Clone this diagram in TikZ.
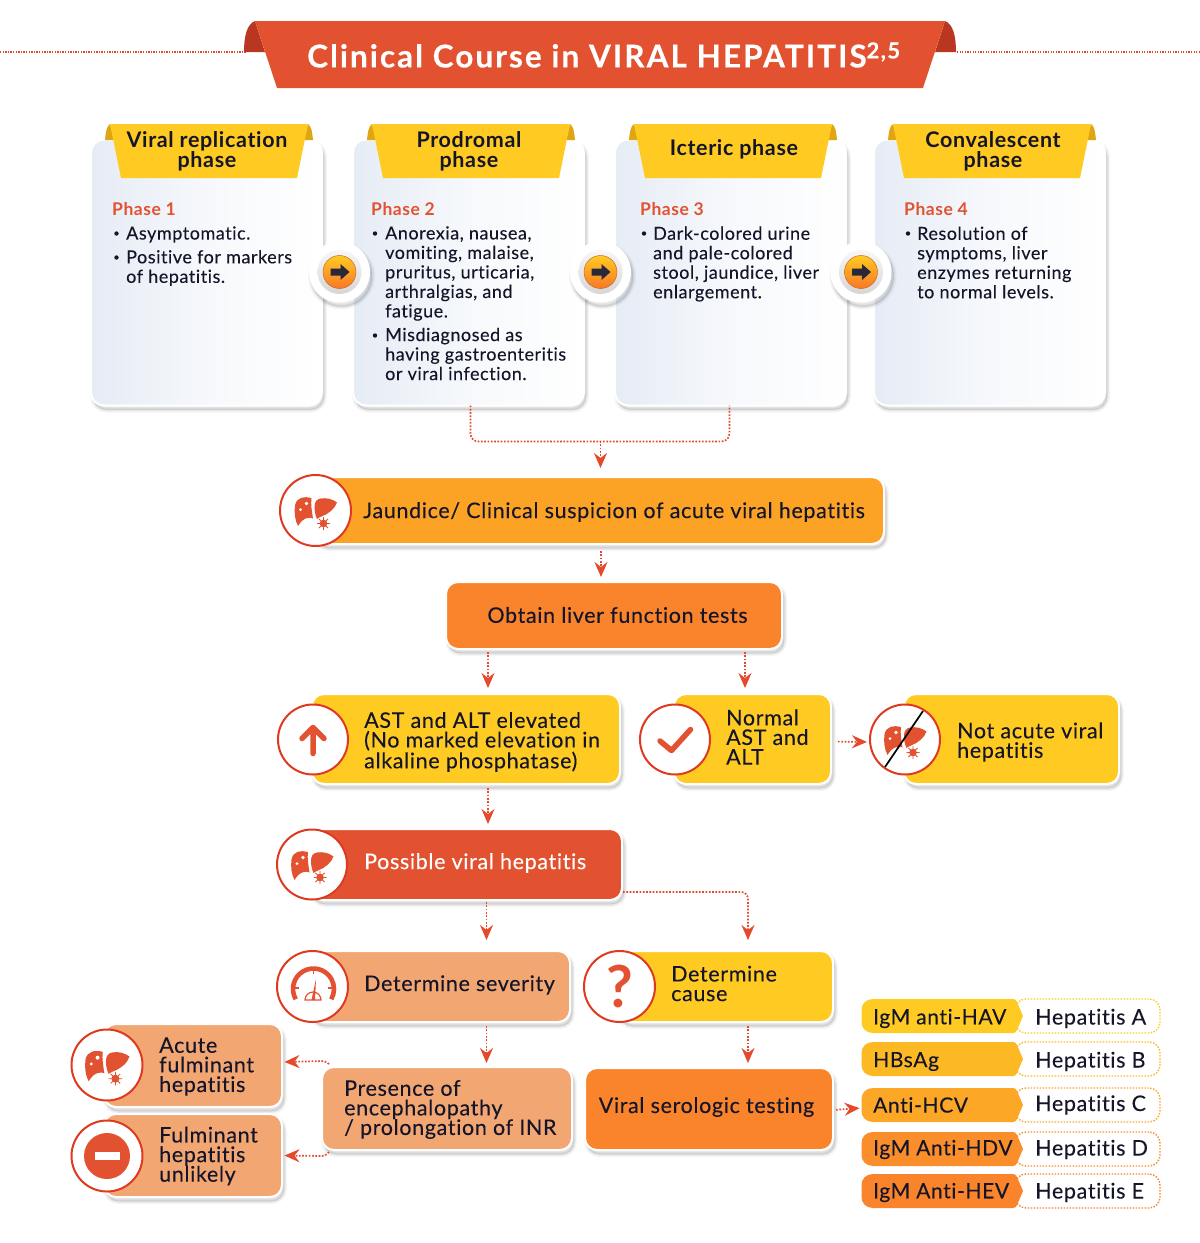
\documentclass[tikz,border=0pt]{standalone}
\usepackage{fontspec}
\setmainfont[LetterSpace=3,Ligatures=NoCommon,BoldFont={Lato Bold},UprightFeatures={FakeBold=0.12}]{Lato}
\newfontfamily\headfont[LetterSpace=6.5,Ligatures=NoCommon,FakeBold=0.25]{Lato Bold}
\usetikzlibrary{arrows.meta,shadows,calc}
\definecolor{cRed}{HTML}{E25231}
\definecolor{cRing}{HTML}{DF3A20}
\definecolor{cYel}{HTML}{FFCB22}
\definecolor{cYelD}{HTML}{E0A612}
\definecolor{cAmb}{HTML}{FCA326}
\definecolor{cOra}{HTML}{F9842B}
\definecolor{cPea}{HTML}{F2A672}
\definecolor{cInk}{HTML}{15152A}
\definecolor{cArrow}{HTML}{E5492B}
\definecolor{cFold}{HTML}{B93620}
\definecolor{cCard}{HTML}{E6ECF5}
\definecolor{rowA}{HTML}{FFCB22}
\definecolor{rowB}{HTML}{FDB924}
\definecolor{rowC}{HTML}{FCA726}
\definecolor{rowD}{HTML}{FA8E2A}
\definecolor{rowE}{HTML}{F9842B}
\tikzset{
 softshadow/.style={
  general shadow={draw=black,opacity=.035,line width=6pt,shadow xshift=2pt,shadow yshift=-4pt},
  general shadow={draw=black,opacity=.05,line width=3.5pt,shadow xshift=2pt,shadow yshift=-4pt},
  general shadow={fill=black,draw=black,opacity=.07,line width=1pt,shadow xshift=2pt,shadow yshift=-4pt}},
 flowbox/.style={rectangle,rounded corners=12pt,draw=white,line width=2pt,inner sep=0pt,outer sep=0pt,softshadow},
 infocard/.style={flowbox,rounded corners=13pt,left color=cCard,right color=white,middle color=cCard!35!white},
 iconring/.style={circle,fill=white,draw=cRing,line width=2pt,inner sep=0pt,outer sep=0pt,minimum size=70pt},
 flow/.style={draw=cArrow,line width=1.7pt,dash pattern=on 1.7pt off 1.6pt},
 flowarrow/.style={flow,-{Stealth[length=15pt,width=13pt,inset=5pt,fill=cArrow]}},
 lbl/.style={text=cInk,anchor=west,align=left,inner sep=0pt,font=\fontsize{21.5}{19.6}\selectfont},
 lblc/.style={lbl,anchor=center,align=center},
 rowl/.style={lbl,font=\fontsize{21}{19.6}\selectfont},
 ctext/.style={text=cInk,anchor=west,align=left,inner sep=0pt,font=\fontsize{18}{19.5}\selectfont},
 phase/.style={text=cRed,anchor=west,inner sep=0pt,font=\fontsize{17.5}{19}\selectfont\bfseries},
 ribhead/.style={text=cInk,align=center,inner sep=0pt,font=\fontsize{21.5}{20}\selectfont\bfseries},
 bul/.style={circle,fill=cInk,inner sep=0pt,minimum size=4.4pt},
}
\newcommand{\bx}[6]{\node[flowbox,fill=#6,minimum width={(#4)-(#2)+2},minimum height={(#5)-(#3)+2}] (#1) at ({((#2)+(#4))/2},{((#3)+(#5))/2}) {};}
\newcommand{\card}[3]{\node[infocard,minimum width=231,minimum height=266] (#1) at (#2,272.5) {};
 \fill[cYelD] (#3-104,140) .. controls (#3-103,130) and (#3-102,126) .. (#3-99,124) -- (#3-95,140) -- cycle;
 \fill[cYelD] (#3+104,140) .. controls (#3+103,130) and (#3+102,126) .. (#3+99,124) -- (#3+95,140) -- cycle;
 \fill[cYel] (#3-99,124) -- (#3+99,124) -- (#3+88,178) -- (#3-88,178) -- cycle;}
\newcommand{\liver}[4]{\begin{scope}[shift={(#1,#2)},scale=#3]
 \fill[cRed] (-4,-12.5) .. controls (-11,-14.5) and (-19,-13.5) .. (-20.5,-5) .. controls (-21.5,2) and (-20.5,10) .. (-17.5,15.5) .. controls (-15,11.5) and (-12,8) .. (-8,7.5) .. controls (-6,7) and (-4,7) .. (-2.5,8) .. controls (-3.5,1) and (-5,-6) .. cycle;
 \fill[cRed] (-1,-4) .. controls (-1,-8) and (1,-11.5) .. (5,-12) .. controls (11,-13) and (17,-11.5) .. (21.5,-8) .. controls (19.5,-2) and (13,3.5) .. (6,6) .. controls (4,7) and (2.5,7.5) .. (1.5,8.5) .. controls (-0.5,4) and (-1,0) .. cycle;
 \fill[white] (-9,-7) circle (1.9) (-15,-1) circle (1.5);
 \fill[#4] (8,13) circle (3.8);
 \draw[#4,line width=.8pt] (1.5,13) -- (14.5,13) (8,6.5) -- (8,19.5) (3.4,8.4) -- (12.6,17.6) (3.4,17.6) -- (12.6,8.4);
 \end{scope}}
\newcommand{\btn}[3]{\node[circle,fill=white,inner sep=0pt,minimum size=61pt,softshadow] (#1) at (#2,#3) {};
 \shade[top color=gray!6,bottom color=gray!32] (#1.center) circle (22);
 \shade[top color=cYel,bottom color=cOra!90!red,draw=cOra!80!black,line width=.5pt] (#1.center) circle (16.5);
 \fill[cInk!82!gray] ([shift={(-9pt,3.5pt)}]#1.center) -- ++(10,0) -- ++(0,-4.5) -- ++(9,8) -- ++(-9,8) -- ++(0,-4.5) -- ++(-10,0) -- cycle;}
\newcommand{\testrow}[7]{%
 \node[draw=#4,dash pattern=on 1.5pt off 1.5pt,line width=1.4pt,rounded corners=11pt,fill=white,inner sep=0pt,minimum width=145,minimum height={(#3)-(#2)}] (#1o) at (1087.5,{((#2)+(#3))/2}) {};
 \path[fill=#4] (873,#2) -- (1013,#2) .. controls (1015,#2) and (1016,{(#2)+1}) .. (1017,{(#2)+3}) -- (1023,{((#2)+(#3))/2}) -- (1017,{(#3)-3}) .. controls (1016,{(#3)-1}) and (1015,#3) .. (1013,#3) -- (873,#3) .. controls (866,#3) and (861.5,{(#3)-5}) .. (861.5,{(#3)-11}) -- (861.5,{(#2)+11}) .. controls (861.5,{(#2)+5}) and (866,#2) .. (873,#2) -- cycle;
 \coordinate (#1p) at (861.5,{((#2)+(#3))/2});
 \node[rowl] (#1a) at (873,{((#2)+(#3))/2+#7}) {#5};
 \node[lbl] (#1b) at (1035,{((#2)+(#3))/2+#7}) {#6};}
\begin{document}
\begin{tikzpicture}[x=1pt,y=-1pt]
\fill[white] (0,0) rectangle (1200,1243);
\useasboundingbox (0,0) rectangle (1200,1243);
% title
\coordinate (dotL) at (0,52);\coordinate (dotLe) at (246,52);\coordinate (dotR) at (1200,52);\coordinate (dotRe) at (956,52);
\draw[flow,line width=1.2pt,dash pattern=on 1.3pt off 1.3pt] (dotL) -- (dotLe) (dotR) -- (dotRe);
\fill[cFold] (244,52) .. controls (244,36) and (247,24) .. (255,21) -- (265,52) -- cycle;
\fill[cFold] (956,52) .. controls (956,36) and (953,24) .. (945,21) -- (935,52) -- cycle;
\fill[cRed] (255,21) -- (945,21) -- (923,88) -- (277,88) -- cycle;
\node[text=white,inner sep=0pt,anchor=west,font=\fontsize{31.5}{31}\selectfont\headfont] (title) at (307,55) {Clinical Course in VIRAL HEPATITIS\textsuperscript{2,5}};
% cards
\card{c1}{206.5}{209}
\card{c2}{468.5}{471}
\card{c3}{730.5}{733}
\card{c4}{989.5}{992}
\node[ribhead] (h1) at (207,151) {Viral replication\\phase};
\node[ribhead] (h2) at (469,151) {Prodromal\\phase};
\node[ribhead] (h3) at (734,149.5) {Icteric phase};
\node[ribhead] (h4) at (993,151) {Convalescent\\phase};
\node[phase] (p1) at (112,209) {Phase 1};
\node[phase] (p2) at (371,209) {Phase 2};
\node[phase] (p3) at (640,209) {Phase 3};
\node[phase] (p4) at (904,209) {Phase 4};
\node[bul] (b11) at (116.5,233.5) {};
\node[ctext] (t11) at (126,234.5) {Asymptomatic.};
\node[bul] (b12) at (116.5,257.5) {};
\node[ctext] (t12) at (126,268) {Positive for markers\\of hepatitis.};
\node[bul] (b21) at (375,233.5) {};
\node[ctext] (t21) at (385,273.5) {Anorexia, nausea,\\vomiting, malaise,\\pruritus, urticaria,\\arthralgias, and\\fatigue.};
\node[bul] (b22) at (375,335.5) {};
\node[ctext] (t22) at (385,354) {Misdiagnosed as\\having gastroenteritis\\or viral infection.};
\node[bul] (b31) at (644,233.5) {};
\node[ctext] (t31) at (653,264) {Dark-colored urine\\and pale-colored\\stool, jaundice, liver\\enlargement.};
\node[bul] (b41) at (908,233.5) {};
\node[ctext] (t41) at (917,262.5) {Resolution of\\symptoms, liver\\enzymes returning\\to normal levels.};
\btn{a1}{339.5}{272}
\btn{a2}{600.5}{272}
\btn{a3}{861}{272}
% boxes
\bx{jaun}{315}{478}{883}{543}{cAmb}
\node[iconring,minimum size=71pt] (jaunI) at (315.5,510.5) {};
\liver{315.5}{510.5}{1}{cRed}
\node[lbl] (jaunT) at (363,512) {Jaundice/ Clinical suspicion of acute viral hepatitis};
\bx{obt}{447}{583}{781}{648}{cOra}
\node[lblc] (obtT) at (617.5,615) {Obtain liver function tests};
\bx{ast}{313}{695}{619}{783}{cYel}
\node[iconring] (astI) at (313,739.5) {};
\node[lbl] (astT) at (364,742) {AST and ALT elevated\\(No marked elevation in\\alkaline phosphatase)};
\draw[cRed,line width=5.5pt,line cap=round,line join=round] (astI.center) ++(0,14) -- ++(0,-26) ++(-11,11) -- ++(11,-11) -- ++(11,11);
\bx{nor}{675}{695}{830}{783}{cYel}
\node[iconring] (norI) at (675,739.5) {};
\node[lbl] (norT) at (726,737) {Normal\\AST and\\ALT};
\draw[cRed,line width=5.5pt,line cap=round,line join=round] (norI.center) ++(-15,1.5) -- ++(11.5,9.5) -- ++(19,-21);
\bx{notv}{905}{695}{1118}{783}{cYel}
\node[iconring] (notI) at (905,739.5) {};
\liver{905}{739.5}{1}{cRed}
\draw[black,line width=1.7pt] (923,711) -- (885,767);
\node[lbl] (notT) at (957,742) {Not acute viral\\hepatitis};
\bx{poss}{312}{830}{621}{899}{cRed}
\node[iconring] (possI) at (312,864.5) {};
\liver{312}{864.5}{1}{cRed}
\node[lbl,text=white] (possT) at (364,863) {Possible viral hepatitis};
\bx{sev}{312}{952}{569}{1021}{cPea}
\node[iconring,minimum size=71pt] (sevI) at (312.5,986.5) {};
\node[lbl] (sevT) at (364,985) {Determine severity};
\draw[cRed,line width=4.6pt] (295.75,999.25) arc[start angle=150,end angle=390,radius=20.5];
\draw[cRed,line width=1.2pt] (305,1000) arc[start angle=180,end angle=360,radius=8] -- cycle;
\fill[cRed] (311.5,1000) -- (316,979) -- (315,1000) -- cycle;
\draw[cRed,line width=1.2pt] (313.5,970) -- (313.5,974) (295,988) -- (299,988) (328,988) -- (332,988);
\bx{cau}{619.5}{952}{832}{1021}{cYel}
\node[iconring,minimum size=71pt] (cauI) at (619.5,986.5) {};
\node[text=cRed,inner sep=0pt,font=\fontsize{58}{58}\selectfont\bfseries] (cauQ) at (620,986) {?};
\node[lbl] (cauT) at (671,983.5) {Determine\\cause};
\bx{pres}{323}{1068}{571}{1149}{cPea}
\node[lbl] (presT) at (344,1109.5) {Presence of\\encephalopathy\\/ prolongation of INR};
\bx{sero}{586}{1069}{832}{1149}{cOra}
\node[lblc] (seroT) at (706.5,1107) {Viral serologic testing};
\bx{acu}{105}{1025}{281}{1106}{cPea}
\node[iconring,minimum size=71pt] (acuI) at (107,1065) {};
\liver{107}{1065}{1.05}{cRed}
\node[lbl] (acuT) at (159,1066.5) {Acute\\fulminant\\hepatitis};
\bx{ful}{105}{1115}{281}{1196}{cPea}
\node[iconring,minimum size=71pt] (fulI) at (107,1156) {};
\fill[cRed] (fulI.center) circle (23);
\fill[white] (94.5,1152) rectangle (120,1160);
\node[lbl] (fulT) at (159,1156) {Fulminant\\hepatitis\\unlikely};
% tests
\testrow{ra}{999}{1033}{rowA}{IgM anti-HAV}{Hepatitis A}{2.5}
\testrow{rb}{1042}{1076}{rowB}{HBsAg}{Hepatitis B}{2.5}
\testrow{rc}{1088}{1122}{rowC}{Anti-HCV}{Hepatitis C}{0}
\testrow{rd}{1132}{1166}{rowD}{IgM Anti-HDV}{Hepatitis D}{0.5}
\testrow{re}{1174}{1208}{rowE}{IgM Anti-HEV}{Hepatitis E}{1.5}
% connectors
\coordinate (merge) at (600.5,441);
\coordinate (xa) at (601,0);\coordinate (xb) at (488,0);\coordinate (xc) at (745,0);\coordinate (xd) at (486.5,0);\coordinate (xe) at (748,0);
\draw[flow,rounded corners=8pt] ([xshift=2pt]c2.south) -- ++(0,36) -| ([xshift=-1pt]c3.south);
\draw[flowarrow,shorten >=9pt] (merge) -- (jaun.north -| merge);
\draw[flowarrow,shorten <=7pt,shorten >=5pt] (jaun.south -| xa) -- (obt.north -| xa);
\draw[flowarrow,shorten <=3pt,shorten >=6pt] (obt.south -| xb) -- (ast.north -| xb);
\draw[flowarrow,shorten <=3pt,shorten >=6pt] (obt.south -| xc) -- (nor.north -| xc);
\draw[flowarrow,shorten <=4pt,shorten >=5pt] (ast.south -| xb) -- (poss.north -| xb);
\draw[flowarrow,shorten <=7pt,shorten >=3pt] ([yshift=-2.5pt]nor.east) -- ([yshift=-2.5pt]notI.west);
\draw[flowarrow,shorten <=2pt,shorten >=11pt] (poss.south -| xd) -- (sev.north -| xd);
\draw[flowarrow,rounded corners=7pt,shorten <=1pt,shorten >=11pt] ([yshift=-27.5pt]poss.east) -| (cau.north -| xe);
\draw[flowarrow,shorten <=4pt,shorten >=4pt] (sev.south -| xd) -- (pres.north -| xd);
\draw[flowarrow,shorten <=4pt,shorten >=5pt] (cau.south -| xe) -- (sero.north -| xe);
\draw[flowarrow,rounded corners=3pt,shorten >=2.5pt] ([shift={(7pt,3pt)}]pres.north west) -- ++(-4,-3) -- ([yshift=3.5pt]acu.east);
\draw[flowarrow,rounded corners=3pt,shorten >=2.5pt] ([shift={(7pt,-2pt)}]pres.south west) -- ++(-4,4) -- (ful.east);
\draw[flowarrow,shorten <=3pt,shorten >=2pt] ([yshift=-1pt]sero.east) -- ([yshift=-3pt]rcp);
\end{tikzpicture}
\end{document}
